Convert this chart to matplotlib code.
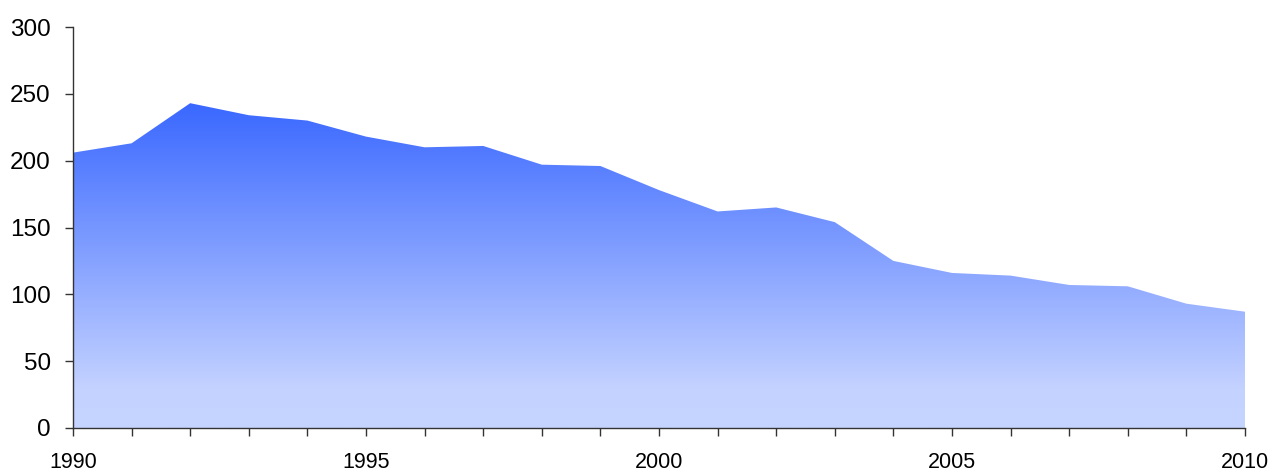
import numpy as np
import matplotlib
matplotlib.use("Agg")
import matplotlib.pyplot as plt
from matplotlib.colors import LinearSegmentedColormap

years = list(range(1990, 2011))
values = [206, 213, 243, 234, 230, 218, 210, 211, 197, 196, 178,
          162, 165, 154, 125, 116, 114, 107, 106, 93, 87]

plt.rcParams['font.family'] = ['Liberation Sans', 'DejaVu Sans']

fig = plt.figure(figsize=(12.73, 4.71), dpi=100)
ax = fig.add_axes([73 / 1273, 43 / 471, (1245 - 73) / 1273, (428 - 27) / 471])

# area with vertical gradient, light at the bottom, saturated blue at the top
poly = ax.fill_between(years, values, 0, color='none', lw=0)
cmap = LinearSegmentedColormap.from_list(
    'g', [(0.0, '#c6d4ff'), (0.12, '#c4d2ff'), (1.0, '#3a68ff')])
grad = np.linspace(0, 1, 256).reshape(-1, 1)
img = ax.imshow(grad, cmap=cmap, aspect='auto', origin='lower',
                extent=[years[0], years[-1], 0, max(values)], zorder=1)
img.set_clip_path(poly.get_paths()[0], transform=ax.transData)

ax.set_xlim(years[0], years[-1])
ax.set_ylim(0, 300)
ax.set_xticks(years)
ax.set_xticklabels([str(y) if y % 5 == 0 else '' for y in years])
ax.set_yticks(range(0, 301, 50))

for side in ['top', 'right']:
    ax.spines[side].set_visible(False)
for side in ['left', 'bottom']:
    ax.spines[side].set_color('#333333')
    ax.spines[side].set_linewidth(1.0)

ax.tick_params(axis='x', direction='out', length=6, width=1, color='#333333',
               labelsize=15.5, pad=11)
ax.tick_params(axis='y', direction='out', length=6, width=1, color='#333333',
               labelsize=17.5, pad=10)

plt.savefig('out.png', dpi=100)
